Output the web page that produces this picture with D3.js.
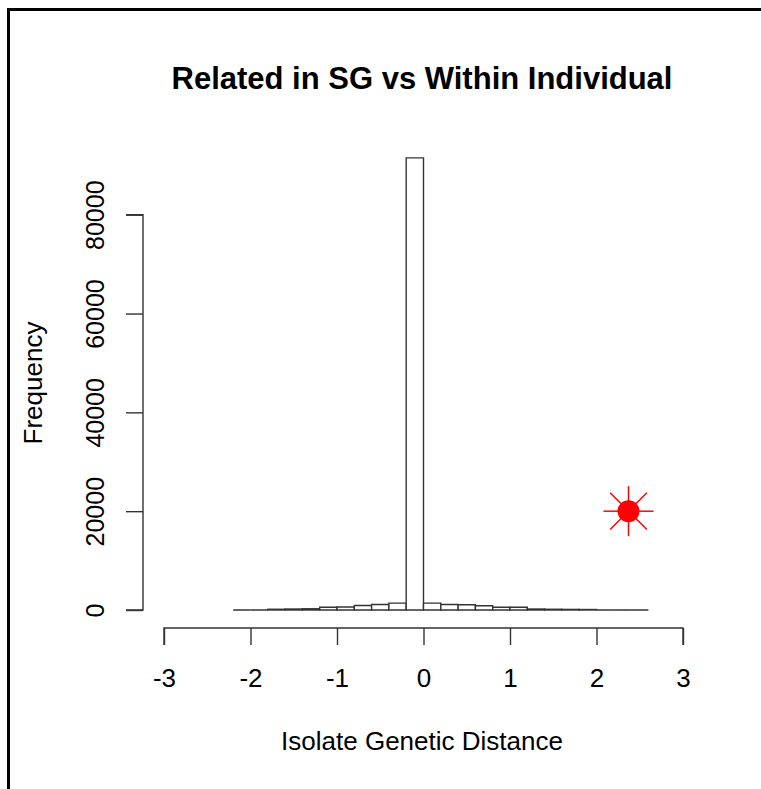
<!DOCTYPE html>
<html>
<head>
<meta charset="utf-8">
<script src="https://cdn.jsdelivr.net/npm/d3@7/dist/d3.min.js"></script>
<style>
  html, body { margin: 0; padding: 0; background: #fff; }
  svg { display: block; font-family: "Liberation Sans", Arial, sans-serif; }
</style>
</head>
<body>
<svg id="chart" width="761" height="789"></svg>
<script>
// Histogram bins: left edges and counts (bin width 0.2)
const binStart = [-2.2, -2.0, -1.8, -1.6, -1.4, -1.2, -1.0, -0.8, -0.6, -0.4, -0.2,
                  0.0, 0.2, 0.4, 0.6, 0.8, 1.0, 1.2, 1.4, 1.6, 1.8, 2.0, 2.2, 2.4];
const binWidth = 0.2;
const counts = [0, 0, 150, 200, 250, 570, 600, 900, 1100, 1400, 91500,
                1400, 1100, 1050, 850, 570, 550, 200, 150, 120, 100, 0, 0, 0];

// Observed value highlighted on the plot
const observed = { x: 2.37, y: 20000 };

const xTicks = [-3, -2, -1, 0, 1, 2, 3];
const yTicks = [0, 20000, 40000, 60000, 80000];

const title = "Related in SG vs Within Individual";
const xLabel = "Isolate Genetic Distance";
const yLabel = "Frequency";

const FONT = "Liberation Sans, Arial, sans-serif";
const svg = d3.select("#chart");

// Outer frame
svg.append("rect")
  .attr("x", 8.5).attr("y", 9.5)
  .attr("width", 800).attr("height", 800)
  .attr("fill", "none").attr("stroke", "#000").attr("stroke-width", 3);

const x = d3.scaleLinear().domain([-3, 3]).range([164, 683]);
const y = d3.scaleLinear().domain([0, 80000]).range([610, 214.7]);

// Bars drawn as closed outlines so empty bins still show on the baseline
svg.append("g").selectAll("path")
  .data(binStart.map((s, i) => ({ s, c: counts[i] })))
  .join("path")
  .attr("d", d => {
    const x0 = x(d.s), x1 = x(d.s + binWidth), y0 = y(0), y1 = y(d.c);
    return `M${x0},${y0}V${y1}H${x1}V${y0}Z`;
  })
  .attr("fill", "#fff")
  .attr("stroke", "#333")
  .attr("stroke-width", 1.4);

// X axis
const xAxis = svg.append("g")
  .attr("transform", "translate(0,628)")
  .call(d3.axisBottom(x).tickValues(xTicks).tickSize(17).tickPadding(24)
        .tickFormat(d => d < 0 ? "-" + Math.abs(d) : String(d)));
xAxis.select(".domain").attr("d", `M${x(-3)},17V0H${x(3)}V17`);
xAxis.selectAll("line, path").attr("stroke", "#333").attr("stroke-width", 1.4);
xAxis.selectAll("text").attr("font-size", 26).attr("fill", "#000")
  .attr("font-family", FONT);

// Y axis
const yAxis = svg.append("g")
  .attr("transform", "translate(143,0)")
  .call(d3.axisLeft(y).tickValues(yTicks).tickSize(17).tickFormat(d3.format("d")));
yAxis.select(".domain").attr("d", `M-17,${y(0)}H0V${y(80000)}H-17`);
yAxis.selectAll("line, path").attr("stroke", "#333").attr("stroke-width", 1.4);
yAxis.selectAll("text")
  .attr("font-size", 25).attr("fill", "#000")
  .attr("font-family", FONT)
  .attr("text-anchor", "middle")
  .attr("dy", 0)
  .attr("x", 0)
  .attr("y", 0)
  .attr("transform", "translate(-48,0) rotate(-90)")
  .attr("dominant-baseline", "central");

// Observed marker: filled disc with star rays
const mx = x(observed.x), my = y(observed.y);
const rays = svg.append("g").attr("transform", `translate(${mx},${my})`);
d3.range(8).forEach(i => {
  const a = i * Math.PI / 4;
  const len = i % 2 === 0 ? 25 : 26;
  rays.append("line")
    .attr("x1", 0).attr("y1", 0)
    .attr("x2", Math.cos(a) * len).attr("y2", Math.sin(a) * len)
    .attr("stroke", "#ff0000").attr("stroke-width", 1.5);
});
rays.append("circle").attr("r", 11).attr("fill", "#ff0000");

// Title and axis labels
svg.append("text")
  .attr("x", 422).attr("y", 89)
  .attr("text-anchor", "middle")
  .attr("font-size", 31).attr("font-weight", "bold")
  .text(title);

svg.append("text")
  .attr("x", 422).attr("y", 750)
  .attr("text-anchor", "middle")
  .attr("font-size", 26)
  .text(xLabel);

svg.append("text")
  .attr("transform", "translate(42,383) rotate(-90)")
  .attr("text-anchor", "middle")
  .attr("font-size", 26)
  .text(yLabel);
</script>
</body>
</html>
